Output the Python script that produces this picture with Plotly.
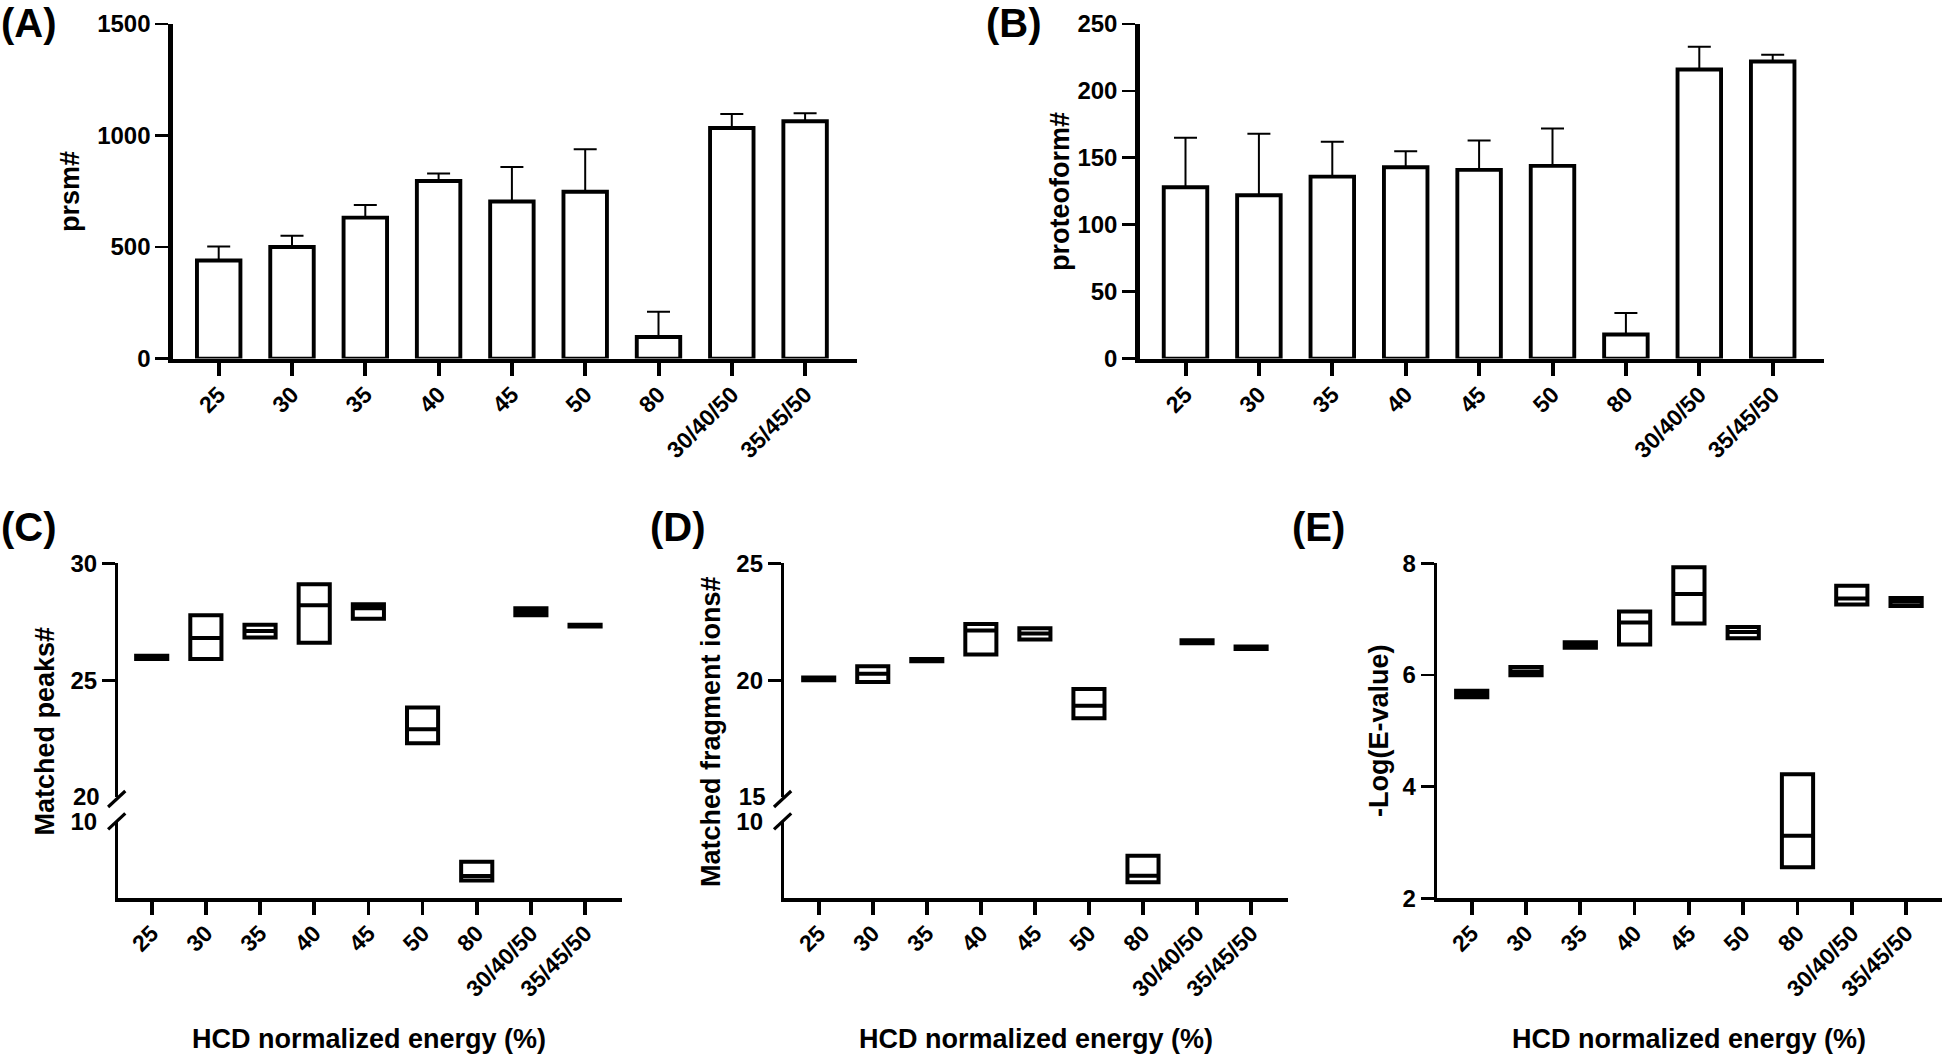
import plotly.graph_objects as go

# ---------------- data ----------------
categories = ["25", "30", "35", "40", "45", "50", "80", "30/40/50", "35/45/50"]
positions = list(range(len(categories)))

# (A) PrSM counts (mean, upper SD)
prsm_mean = [440, 500, 632, 796, 704, 748, 97, 1034, 1064]
prsm_err = [63, 51, 57, 34, 155, 191, 113, 63, 36]

# (B) proteoform counts (mean, upper SD)
proteoform_mean = [128, 122, 136, 143, 141, 144, 18, 216, 222]
proteoform_err = [37, 46, 26, 12, 22, 28, 16, 17, 5]

# (C) matched peaks (min, line, max of floating bars)
peaks_min = [25.90, 25.90, 26.83, 26.60, 27.63, 22.30, 6.16, 27.78, 27.30]
peaks_mid = [25.97, 26.80, 27.10, 28.20, 28.08, 22.90, 6.45, 27.94, 27.33]
peaks_max = [26.04, 27.78, 27.37, 29.10, 28.25, 23.83, 7.39, 28.08, 27.37]

# (D) matched fragment ions
frag_min = [20.00, 19.92, 20.81, 21.10, 21.74, 18.37, 6.05, 21.58, 21.33]
frag_mid = [20.05, 20.27, 20.85, 22.12, 22.00, 18.90, 6.47, 21.65, 21.38]
frag_max = [20.11, 20.60, 20.90, 22.40, 22.22, 19.62, 7.79, 21.71, 21.44]

# (E) -Log(E-value)
eval_min = [5.600, 5.995, 6.485, 6.545, 6.920, 6.655, 2.555, 7.260, 7.235]
eval_mid = [5.660, 6.060, 6.530, 6.940, 7.450, 6.770, 3.120, 7.370, 7.310]
eval_max = [5.716, 6.140, 6.586, 7.136, 7.930, 6.860, 4.220, 7.600, 7.380]

xlabel = "HCD normalized energy (%)"

# ---------------- layout helpers ----------------
W, H = 1943, 1059
FONT = "Liberation Sans, Arial, Helvetica, sans-serif"
TRANSPARENT = "rgba(0,0,0,0)"


def px_x(p):
    return p / W


def px_y(p):
    return 1 - p / H


def x_geom(axis_px, lw, first_tick, spacing, end_px):
    start = axis_px + lw / 2
    domain = [px_x(start), px_x(end_px)]
    rng = [-(first_tick - start) / spacing, (end_px - first_tick) / spacing]
    return domain, rng


def y_dom(top_px, bottom_px):
    return [px_y(bottom_px), px_y(top_px)]


def tfont(size=23):
    return dict(family=FONT, size=size, color="black", weight="bold")


def make_x(domain, rng, anchor, lw, tickw):
    return dict(domain=domain, range=rng, anchor=anchor, showline=True,
                linecolor="black", linewidth=lw, ticks="outside", ticklen=13,
                tickwidth=tickw, tickcolor="black", tickmode="array",
                tickvals=positions, ticktext=categories, tickangle=-45,
                tickfont=tfont(23), ticklabelstandoff=-4, showgrid=False,
                zeroline=False, fixedrange=True, automargin=False)


def make_y(domain, rng, anchor, lw, tickvals, tickcolor="black", showline=True,
           overlaying=None):
    d = dict(domain=domain, range=rng, anchor=anchor, showline=showline,
             linecolor="black", linewidth=lw, ticks="outside", ticklen=13,
             tickwidth=2.7, tickcolor=tickcolor, tickmode="array",
             tickvals=tickvals, ticktext=[f"{v:g}" for v in tickvals],
             tickfont=tfont(24), showgrid=False, zeroline=False,
             fixedrange=True, automargin=False)
    if overlaying:
        d["overlaying"] = overlaying
        d.pop("domain")
    return d


fig = go.Figure()

# ---------------- (A) and (B): bars ----------------
for vals, errs, xa, ya in [(prsm_mean, prsm_err, "x", "y"),
                           (proteoform_mean, proteoform_err, "x2", "y2")]:
    fig.add_trace(go.Bar(
        x=positions, y=vals, width=0.593,
        marker=dict(color="white", line=dict(color="black", width=3.9)),
        error_y=dict(type="data", array=errs, arrayminus=[0] * len(errs),
                     symmetric=False, color="black", thickness=2, width=11.5),
        xaxis=xa, yaxis=ya, hoverinfo="x+y"))


# ---------------- (C), (D), (E): floating bars ----------------
def add_float(lo, mid, hi, xa, ya, sel):
    idx = [i for i in positions if sel(i)]
    fig.add_trace(go.Box(
        x=[positions[i] for i in idx],
        q1=[lo[i] for i in idx], median=[mid[i] for i in idx],
        q3=[hi[i] for i in idx],
        lowerfence=[lo[i] for i in idx], upperfence=[hi[i] for i in idx],
        width=0.575, fillcolor="white", whiskerwidth=0, boxpoints=False,
        line=dict(color="black", width=4), xaxis=xa, yaxis=ya))


BREAK_C = 20
BREAK_D = 15
add_float(peaks_min, peaks_mid, peaks_max, "x3", "y3", lambda i: peaks_min[i] >= BREAK_C)
add_float(peaks_min, peaks_mid, peaks_max, "x3", "y4", lambda i: peaks_min[i] < BREAK_C)
add_float(frag_min, frag_mid, frag_max, "x4", "y6", lambda i: frag_min[i] >= BREAK_D)
add_float(frag_min, frag_mid, frag_max, "x4", "y7", lambda i: frag_min[i] < BREAK_D)
add_float(eval_min, eval_mid, eval_max, "x5", "y9", lambda i: True)

# empty traces so the label-only overlay axes (break labels) are drawn
for ya in ("y5", "y8"):
    fig.add_trace(go.Scatter(x=[], y=[], xaxis="x3" if ya == "y5" else "x4",
                             yaxis=ya, mode="markers", hoverinfo="skip"))

# ---------------- axes ----------------
LW_TOP = 4.3
LW_BOT = 3.5
dA, rA = x_geom(170.5, LW_TOP, 218.7, 73.3, 857)
dB, rB = x_geom(1137.4, LW_TOP, 1185.5, 73.4, 1824)
dC, rC = x_geom(116.7, LW_BOT, 151.7, 54.17, 622)
dD, rD = x_geom(782.6, LW_BOT, 818.7, 54.05, 1288.3)
dE, rE = x_geom(1435.3, LW_BOT, 1471.7, 54.3, 1942)

top_y = y_dom(24, 358.6)
up_y = y_dom(563.3, 797)
low_y = y_dom(822, 898.2)
e_y = y_dom(563.3, 898.2)

fig.update_layout(
    xaxis=make_x(dA, rA, "y", LW_TOP, 4),
    yaxis=make_y(top_y, [0, 1500], "x", LW_TOP, [0, 500, 1000, 1500]),
    xaxis2=make_x(dB, rB, "y2", LW_TOP, 4),
    yaxis2=make_y(top_y, [0, 250], "x2", LW_TOP, [0, 50, 100, 150, 200, 250]),
    xaxis3=make_x(dC, rC, "y4", LW_BOT, 3.7),
    yaxis3=make_y(up_y, [20, 30], "x3", LW_BOT, [25, 30]),
    yaxis4=make_y(low_y, [5, 10], "x3", LW_BOT, [10], tickcolor=TRANSPARENT),
    yaxis5=make_y(None, [20, 30], "x3", LW_BOT, [20], tickcolor=TRANSPARENT,
                  showline=False, overlaying="y3"),
    xaxis4=make_x(dD, rD, "y7", LW_BOT, 3.7),
    yaxis6=make_y(up_y, [15, 25], "x4", LW_BOT, [20, 25]),
    yaxis7=make_y(low_y, [5, 10], "x4", LW_BOT, [10], tickcolor=TRANSPARENT),
    yaxis8=make_y(None, [15, 25], "x4", LW_BOT, [15], tickcolor=TRANSPARENT,
                  showline=False, overlaying="y6"),
    xaxis5=make_x(dE, rE, "y9", LW_BOT, 3.7),
    yaxis9=make_y(e_y, [2, 8], "x5", LW_BOT, [2, 4, 6, 8]),
)

# ---------------- axis break marks ----------------
shapes = []
for ax_px in (116.7, 782.6):
    for cy in (799.0, 821.3):
        shapes.append(dict(type="line", xref="paper", yref="paper",
                           x0=px_x(ax_px - 8.6), y0=px_y(cy + 8.0),
                           x1=px_x(ax_px + 8.6), y1=px_y(cy - 8.0),
                           line=dict(color="black", width=3.2)))

# ---------------- text ----------------
ann = []


def add_text(text, x, y, size, angle=0, xanchor="center", yanchor="middle"):
    ann.append(dict(text=text, x=px_x(x), y=px_y(y), xref="paper", yref="paper",
                    showarrow=False, textangle=angle, xanchor=xanchor,
                    yanchor=yanchor, borderpad=0, font=tfont(size)))


add_text("prsm#", 70, 192, 27, -90)
add_text("proteoform#", 1060, 192, 27, -90)
add_text("Matched peaks#", 44.6, 731, 27, -90)
add_text("Matched fragment ions#", 711, 732, 27, -90)
add_text("-Log(E-value)", 1379, 731, 27, -90)
for cx in (369.4, 1035.5, 1688.7):
    add_text(xlabel, cx, 1039, 27)
add_text("(A)", 0, 0, 40, xanchor="left", yanchor="top")
add_text("(B)", 985, 0, 40, xanchor="left", yanchor="top")
add_text("(C)", 0, 504, 40, xanchor="left", yanchor="top")
add_text("(D)", 649, 504, 40, xanchor="left", yanchor="top")
add_text("(E)", 1291, 504, 40, xanchor="left", yanchor="top")

fig.update_layout(
    width=W, height=H, margin=dict(l=0, r=0, t=0, b=0, pad=0),
    paper_bgcolor="white", plot_bgcolor="rgba(0,0,0,0)",
    showlegend=False, template="none",
    shapes=shapes, annotations=ann,
)

# remove the default 8px page margin so the figure fills the window exactly
fig.write_html("out.html",
               config={"displayModeBar": False, "staticPlot": True},
               post_script="document.body.style.margin='0px';"
                           "document.documentElement.style.overflow='hidden';")
